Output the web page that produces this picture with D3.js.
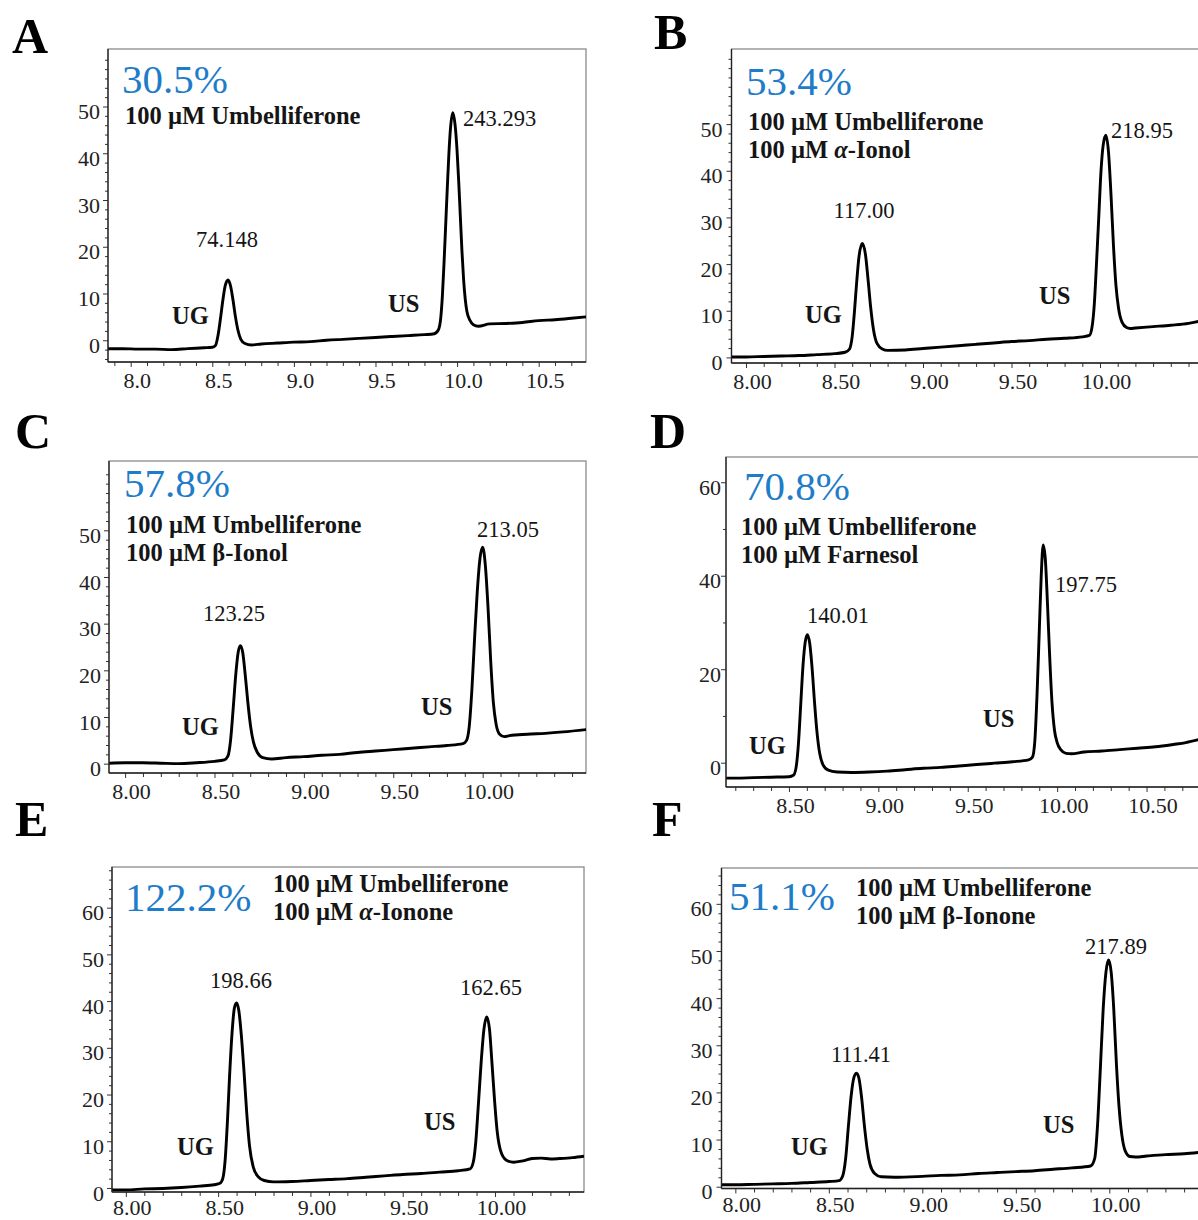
<!DOCTYPE html>
<html>
<head>
<meta charset="utf-8">
<script src="https://cdn.jsdelivr.net/npm/d3@7"></script>
<style>
  body { margin: 0; background: #fff; }
  text { font-family: "Liberation Serif", "Times New Roman", serif; }
</style>
</head>
<body>
<svg id="chart" width="1198" height="1220"></svg>
<script>
// ---- data (retention time in min, signal in mV) ----
const panelLetters = ["A", "B", "C", "D", "E", "F"];
const percents = ["30.5%", "53.4%", "57.8%", "70.8%", "122.2%", "51.1%"];
const compounds = [
  ["100 µM Umbelliferone"],
  ["100 µM Umbelliferone", "100 µM α-Ionol"],
  ["100 µM Umbelliferone", "100 µM β-Ionol"],
  ["100 µM Umbelliferone", "100 µM Farnesol"],
  ["100 µM Umbelliferone", "100 µM α-Ionone"],
  ["100 µM Umbelliferone", "100 µM β-Ionone"]
];
const ugAreas = ["74.148", "117.00", "123.25", "140.01", "198.66", "111.41"];
const usAreas = ["243.293", "218.95", "213.05", "197.75", "162.65", "217.89"];

const xTicks = [
  [8.0, 8.5, 9.0, 9.5, 10.0, 10.5],
  [8.0, 8.5, 9.0, 9.5, 10.0],
  [8.0, 8.5, 9.0, 9.5, 10.0],
  [8.5, 9.0, 9.5, 10.0, 10.5],
  [8.0, 8.5, 9.0, 9.5, 10.0],
  [8.0, 8.5, 9.0, 9.5, 10.0]
];
const yTicks = [
  [0, 10, 20, 30, 40, 50],
  [0, 10, 20, 30, 40, 50],
  [0, 10, 20, 30, 40, 50],
  [0, 20, 40, 60],
  [0, 10, 20, 30, 40, 50, 60],
  [0, 10, 20, 30, 40, 50, 60]
];

const traceA = [[7.86,-1.8],[7.95,-1.8],[8.05,-1.9],[8.15,-1.9],[8.25,-2.0],[8.35,-1.8],[8.45,-1.6],[8.50,-1.5],[8.52,-1.1],[8.535,1.0],[8.55,4.6],[8.565,8.6],[8.58,11.8],[8.597,12.9],[8.612,11.6],[8.627,8.6],[8.642,5.0],[8.657,2.2],[8.675,0.2],[8.70,-0.7],[8.74,-1.0],[8.80,-0.8],[8.90,-0.6],[9.00,-0.4],[9.10,-0.3],[9.20,0.0],[9.30,0.2],[9.40,0.4],[9.50,0.6],[9.60,0.8],[9.70,1.0],[9.80,1.2],[9.86,1.4],[9.885,2.2],[9.90,4.8],[9.91,9.5],[9.92,16.5],[9.93,24.5],[9.94,32.5],[9.95,40],[9.96,45.5],[9.974,48.7],[9.988,46],[10.0,40.5],[10.01,34],[10.02,26.5],[10.03,19],[10.04,13],[10.05,8.8],[10.06,6.2],[10.08,4.2],[10.10,3.3],[10.13,3.0],[10.2,3.5],[10.3,3.6],[10.4,3.8],[10.5,4.2],[10.6,4.4],[10.7,4.7],[10.79,5.0]];
const traceB = [[7.92,0.1],[8.0,0.1],[8.1,0.2],[8.2,0.3],[8.3,0.4],[8.4,0.6],[8.5,0.8],[8.56,1.1],[8.585,1.8],[8.6,4.5],[8.612,9.5],[8.625,16],[8.638,21.5],[8.657,24.4],[8.675,22],[8.69,16.5],[8.705,10.5],[8.72,6],[8.74,3],[8.77,1.8],[8.80,1.5],[8.9,1.6],[9.0,1.9],[9.1,2.2],[9.2,2.5],[9.3,2.8],[9.4,3.1],[9.5,3.4],[9.6,3.6],[9.7,3.9],[9.8,4.1],[9.9,4.4],[9.94,4.7],[9.955,6.5],[9.968,11.5],[9.98,20],[9.993,30],[10.005,39.5],[10.018,45.5],[10.033,47.6],[10.048,44],[10.062,35],[10.076,24],[10.09,15.5],[10.105,10.5],[10.125,7.5],[10.15,6.4],[10.17,6.2],[10.2,6.3],[10.3,6.6],[10.4,6.9],[10.5,7.3],[10.565,7.8]];
const traceC = [[7.91,0.1],[8.0,0.2],[8.1,0.2],[8.2,0.1],[8.3,0.0],[8.4,0.2],[8.5,0.5],[8.555,0.8],[8.575,1.6],[8.59,5],[8.605,12],[8.62,19.5],[8.633,24],[8.645,25.3],[8.658,23.8],[8.672,19],[8.687,13],[8.702,8],[8.718,4.6],[8.74,2.4],[8.77,1.3],[8.82,1.0],[8.9,1.3],[9.0,1.5],[9.1,1.8],[9.2,2.0],[9.3,2.4],[9.4,2.7],[9.5,3.0],[9.6,3.3],[9.7,3.6],[9.8,3.9],[9.89,4.3],[9.91,5],[9.925,8],[9.94,16],[9.955,27],[9.97,37],[9.985,44],[10.0,46.4],[10.015,42.5],[10.03,33.5],[10.045,22],[10.06,13],[10.075,8.5],[10.095,6.3],[10.12,5.8],[10.15,6.0],[10.25,6.3],[10.35,6.5],[10.45,6.8],[10.58,7.3]];
const traceD = [[8.148,-3.3],[8.2,-3.3],[8.3,-3.2],[8.4,-3.1],[8.5,-3.0],[8.525,-2.7],[8.54,-1.0],[8.553,4],[8.566,12.5],[8.579,21],[8.591,25.8],[8.603,27.4],[8.616,25.6],[8.629,20.5],[8.643,13],[8.657,6.5],[8.672,2],[8.69,-0.4],[8.72,-1.6],[8.77,-2.0],[8.85,-2.1],[8.95,-2.0],[9.05,-1.8],[9.15,-1.5],[9.25,-1.2],[9.35,-1.0],[9.45,-0.7],[9.55,-0.4],[9.65,-0.1],[9.75,0.2],[9.84,0.6],[9.862,1.2],[9.875,4.5],[9.888,15],[9.9,28],[9.911,40],[9.922,46.6],[9.934,43.5],[9.946,34],[9.958,23],[9.971,13],[9.985,7],[10.0,4.3],[10.02,2.8],[10.05,2.0],[10.08,1.9],[10.15,2.3],[10.25,2.5],[10.35,2.8],[10.45,3.1],[10.55,3.4],[10.65,3.9],[10.72,4.3],[10.8,5.0]];
const traceE = [[7.925,-0.4],[8.0,-0.4],[8.1,-0.2],[8.2,-0.1],[8.3,0.1],[8.4,0.4],[8.48,0.7],[8.51,1.0],[8.525,2.0],[8.538,6],[8.55,14],[8.562,24],[8.575,33],[8.588,38.5],[8.6,39.6],[8.612,38],[8.625,33],[8.64,25],[8.655,16],[8.67,9],[8.69,4.5],[8.715,2.5],[8.75,1.6],[8.8,1.3],[8.9,1.4],[9.0,1.6],[9.1,1.8],[9.2,2.0],[9.3,2.3],[9.4,2.6],[9.5,2.9],[9.6,3.1],[9.7,3.4],[9.8,3.7],[9.865,4.1],[9.882,5.5],[9.896,10],[9.91,18],[9.925,27],[9.94,34],[9.955,36.6],[9.97,34],[9.983,27],[9.997,19],[10.012,12],[10.03,8],[10.06,6],[10.1,5.5],[10.15,5.8],[10.2,6.3],[10.25,6.4],[10.3,6.2],[10.35,6.3],[10.42,6.5],[10.482,6.8]];
const traceF = [[7.926,0.4],[8.0,0.4],[8.1,0.5],[8.2,0.6],[8.3,0.7],[8.4,0.9],[8.5,1.1],[8.555,1.3],[8.575,2.4],[8.59,6],[8.605,13],[8.62,19.5],[8.635,23.3],[8.648,24.1],[8.661,23],[8.675,19],[8.69,13],[8.705,8],[8.72,4.8],[8.745,2.8],[8.78,2.1],[8.85,2.0],[9.0,2.2],[9.1,2.4],[9.2,2.5],[9.3,2.8],[9.4,3.0],[9.5,3.2],[9.6,3.4],[9.7,3.7],[9.8,4.0],[9.9,4.4],[9.922,6],[9.937,13],[9.952,25],[9.967,37.5],[9.982,45.5],[9.996,48.1],[10.01,45.5],[10.024,37.5],[10.038,26],[10.052,17],[10.067,11],[10.085,7.6],[10.11,6.4],[10.14,6.3],[10.2,6.5],[10.3,6.8],[10.4,7.0],[10.485,7.3]];
const traces = [traceA, traceB, traceC, traceD, traceE, traceF];

// ---- layout: plot boxes (px), visible axis ranges, and where the labels sit ----
const layout = [
  { box: [108, 49, 586, 362], xDomain: [7.861, 10.79], yDomain: [-4.65, 62.3], xFmt: ".1f", xPad: 5,
    yMinor: d3.range(-4, 62, 2), yPad: 3, letter: [12, 53], pct: [122, 93], comp: [125, 124],
    ugArea: [227, 247, "middle"], usArea: [463, 126, "start"], ug: [172, 324], us: [388, 312] },
  { box: [731.5, 49, 1200, 363], xDomain: [7.918, 10.565], yDomain: [-1.2, 66.1], xFmt: ".2f", xPad: 5,
    yMinor: d3.range(0, 65, 2), yPad: 4, letter: [654, 49], pct: [746, 95], comp: [748, 130],
    ugArea: [864, 218, "middle"], usArea: [1111, 138, "start"], ug: [805, 323], us: [1039, 304] },
  { box: [109, 461, 586, 773], xDomain: [7.91, 10.578], yDomain: [-2.0, 64.85], xFmt: ".2f", xPad: 5,
    yMinor: d3.range(0, 64, 2), yPad: 3, letter: [15, 448], pct: [124, 497], comp: [126, 533],
    ugArea: [234, 621, "middle"], usArea: [508, 537, "middle"], ug: [182, 735], us: [421, 715] },
  { box: [726, 457, 1200, 787], xDomain: [8.148, 10.799], yDomain: [-5.2, 65.4], xFmt: ".2f", xPad: 5,
    yMinor: [10, 30, 50], yPad: 0, letter: [650, 448], pct: [744, 500], comp: [741, 535],
    ugArea: [838, 623, "middle"], usArea: [1055, 592, "start"], ug: [749, 754], us: [983, 727] },
  { box: [112, 867, 584, 1192], xDomain: [7.925, 10.482], yDomain: [-0.86, 68.7], xFmt: ".2f", xPad: 2,
    yMinor: d3.range(0, 69, 2), yPad: 3, letter: [15, 836], pct: [125, 911], comp: [273, 892],
    ugArea: [241, 988, "middle"], usArea: [491, 995, "middle"], ug: [177, 1155], us: [424, 1130] },
  { box: [721.5, 868, 1200, 1188.5], xDomain: [7.926, 10.485], yDomain: [-0.38, 67.6], xFmt: ".2f", xPad: 3,
    yMinor: d3.range(0, 67, 2), yPad: 4, letter: [652, 836], pct: [729, 910], comp: [856, 896],
    ugArea: [861, 1062, "middle"], usArea: [1116, 954, "middle"], ug: [791, 1155], us: [1043, 1133] }
];

const ink = "#151515";
const blue = "#1f7cc8";
const svg = d3.select("#chart");
svg.append("rect").attr("width", 1198).attr("height", 1220).attr("fill", "#fff");

function styleAxis(a) {
  a.attr("font-family", null).attr("font-size", null);
  a.select(".domain").remove();
  a.selectAll(".tick line").attr("stroke", "#333");
}

function drawPanel(p, i) {
  const [x0, y0, x1, y1] = p.box;
  const x = d3.scaleLinear().domain(p.xDomain).range([x0, x1]);
  const y = d3.scaleLinear().domain(p.yDomain).range([y1, y0]);
  const g = svg.append("g").attr("class", "panel");

  // frame
  g.append("rect")
    .attr("x", x0).attr("y", y0)
    .attr("width", x1 - x0).attr("height", y1 - y0)
    .attr("fill", "none").attr("stroke", "#8a8a8a").attr("stroke-width", 1.3);

  // trace
  const clipId = "clip" + i;
  g.append("clipPath").attr("id", clipId)
    .append("rect").attr("x", x0).attr("y", y0).attr("width", x1 - x0).attr("height", y1 - y0);

  const line = d3.line()
    .x((d) => x(d[0]))
    .y((d) => y(d[1]))
    .curve(d3.curveMonotoneX);

  g.append("path")
    .datum(traces[i])
    .attr("clip-path", `url(#${clipId})`)
    .attr("d", line)
    .attr("fill", "none")
    .attr("stroke", "#000")
    .attr("stroke-width", 2.9)
    .attr("stroke-linejoin", "round");

  // y axis
  const inY = (v) => v >= p.yDomain[0] && v <= p.yDomain[1];
  g.append("g")
    .attr("transform", `translate(${x0},0)`)
    .call(d3.axisLeft(y).tickValues(p.yMinor.filter((v) => inY(v) && !yTicks[i].includes(v)))
      .tickSize(3).tickSizeOuter(0).tickFormat(""))
    .call(styleAxis);

  const ya = g.append("g")
    .attr("transform", `translate(${x0},0)`)
    .call(d3.axisLeft(y).tickValues(yTicks[i]).tickSize(5).tickSizeOuter(0)
      .tickPadding(p.yPad).tickFormat(d3.format("d")))
    .call(styleAxis);
  ya.selectAll("text").attr("y", 5).attr("font-size", 22).attr("fill", "#222");

  // x axis
  const inX = (v) => v >= p.xDomain[0] && v <= p.xDomain[1];
  const xMinor = d3.range(Math.ceil(p.xDomain[0] * 10), Math.floor(p.xDomain[1] * 10) + 1)
    .map((k) => k / 10)
    .filter((v) => inX(v) && !xTicks[i].some((t) => Math.abs(t - v) < 1e-6));
  g.append("g")
    .attr("transform", `translate(0,${y1})`)
    .call(d3.axisBottom(x).tickValues(xMinor).tickSize(4).tickSizeOuter(0).tickFormat(""))
    .call(styleAxis);

  const xa = g.append("g")
    .attr("transform", `translate(0,${y1})`)
    .call(d3.axisBottom(x).tickValues(xTicks[i]).tickSize(5).tickSizeOuter(0)
      .tickPadding(p.xPad).tickFormat(d3.format(p.xFmt)))
    .call(styleAxis);
  xa.selectAll("text").attr("x", 6).attr("font-size", 22).attr("fill", "#222");

  // axis lines (left and bottom darker than the frame)
  g.append("line").attr("x1", x0).attr("x2", x0).attr("y1", y0).attr("y2", y1)
    .attr("stroke", "#222").attr("stroke-width", 1.3);
  g.append("line").attr("x1", x0).attr("x2", x1).attr("y1", y1).attr("y2", y1)
    .attr("stroke", "#222").attr("stroke-width", 1.3);

  // panel letter
  svg.append("text")
    .attr("x", p.letter[0]).attr("y", p.letter[1])
    .attr("font-size", 50).attr("font-weight", "bold").attr("fill", "#000")
    .text(panelLetters[i]);

  // percent
  g.append("text")
    .attr("x", p.pct[0]).attr("y", p.pct[1])
    .attr("font-size", 41).attr("fill", blue)
    .text(percents[i]);

  // compound lines, alpha in italics
  compounds[i].forEach((c, k) => {
    const t = g.append("text")
      .attr("x", p.comp[0]).attr("y", p.comp[1] + k * 28)
      .attr("font-size", 24.5).attr("font-weight", "bold").attr("fill", ink);
    c.split(/(α)/).filter((s) => s.length).forEach((part) => {
      t.append("tspan")
        .attr("font-style", part === "α" ? "italic" : null)
        .text(part);
    });
  });

  // peak areas
  g.append("text")
    .attr("x", p.ugArea[0]).attr("y", p.ugArea[1]).attr("text-anchor", p.ugArea[2])
    .attr("font-size", 22.5).attr("fill", ink).text(ugAreas[i]);
  g.append("text")
    .attr("x", p.usArea[0]).attr("y", p.usArea[1]).attr("text-anchor", p.usArea[2])
    .attr("font-size", 22.5).attr("fill", ink).text(usAreas[i]);

  // peak names
  g.append("text")
    .attr("x", p.ug[0]).attr("y", p.ug[1])
    .attr("font-size", 24.5).attr("font-weight", "bold").attr("fill", ink).text("UG");
  g.append("text")
    .attr("x", p.us[0]).attr("y", p.us[1])
    .attr("font-size", 24.5).attr("font-weight", "bold").attr("fill", ink).text("US");
}

layout.forEach(drawPanel);
</script>
</body>
</html>
